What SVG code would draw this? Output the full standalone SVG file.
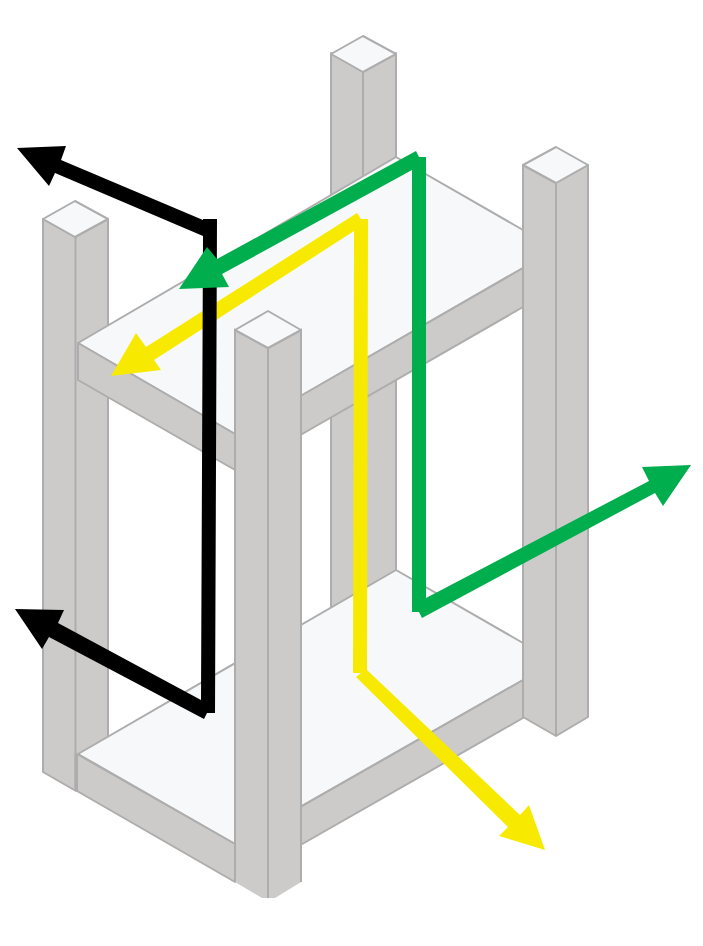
<svg xmlns="http://www.w3.org/2000/svg" width="703" height="946" viewBox="0 0 703 946">
<style>
.f{fill:#cccbca;stroke:#aeadad;stroke-width:2;stroke-linejoin:round}
.t{fill:#f7f8fa;stroke:#aeadad;stroke-width:2;stroke-linejoin:round}
.e{fill:none;stroke:#aeadad;stroke-width:2}
.k{fill:#000}.g{fill:#00ae4d}.y{fill:#f7ea00}
</style>
<rect width="703" height="946" fill="#fff"/>
<g id="post-back">
<polygon class="f" points="331,53 331,625 396,625 396,53 363,72"/>
<polygon class="t" points="363,36 331,54 363,72 396,54"/>
<line class="e" x1="363" y1="72" x2="363" y2="625"/>
</g>
<g id="post-left">
<polygon class="f" points="43,219 43,772 76,791 108,760 108,219 75,237"/>
<polygon class="t" points="75,201 43,219 75,237 108,219"/>
<line class="e" x1="75.500" y1="237" x2="75.500" y2="790" stroke-width="3"/>
</g>
<g id="shelf-upper">
<polygon class="t" points="78,343 396,157 523,230 523,268 235,434"/>
<polygon class="f" points="78,343 235,434 235,470 78,380"/>
<polygon class="f" points="290,402 523,268 523,307 290,441"/>
</g>
<g id="shelf-lower">
<polygon class="t" points="78,754 396,570 523,643 523,680 235,844"/>
<polygon class="f" points="77,754 235,844 235,882 77,791"/>
<polygon class="f" points="290,813 523,680 523,718 290,851"/>
<line x1="76" y1="754" x2="76" y2="791" stroke="#aeadad" stroke-width="3"/>
</g>
<g id="post-right">
<polygon class="f" points="523,165 523,717 556,736 588,717 588,165 556,183"/>
<polygon class="t" points="556,147 523,165 556,183 588,165"/>
<line class="e" x1="556" y1="183" x2="556" y2="736" stroke-width="2.500"/>
</g>
<g id="post-front">
<polygon points="235,330 235,882 262,898 275,898 301,882 301,330 268,348" fill="#cccbca"/>
<polyline class="e" points="235,882 235,330 268,348 301,330 301,882"/>
<polygon class="t" points="268,311 235,330 268,348 301,330"/>
<line class="e" x1="268" y1="348" x2="268" y2="898"/>
</g>
<g id="connectors">
<g id="path-yellow">
<polygon class="y" points="357,213 361,219 368,219 367,670 520,815 529,805 545,850 499,836 508,827 356,677 361,673 353,673 354,231 154,360 161,370 111,376 136,333 146,347"/>
</g>
<g id="path-black">
<polygon class="k" points="203,219 217,219 215,713 207,713 204,719 49,637 42,649 15,609 64,610 58,623 201,700 203,236 55,173 49,186 17,148 66,146 61,160 203,220"/>
</g>
<g id="path-green">
<polygon class="g" points="416,151 419,157 426,157 426,598 649,481 642,467 691,465 663,506 655,493 422,618 419,612 412,612 412,170 222,274 229,287 179,289 207,247 217,259"/>
</g>
</g>
</svg>
